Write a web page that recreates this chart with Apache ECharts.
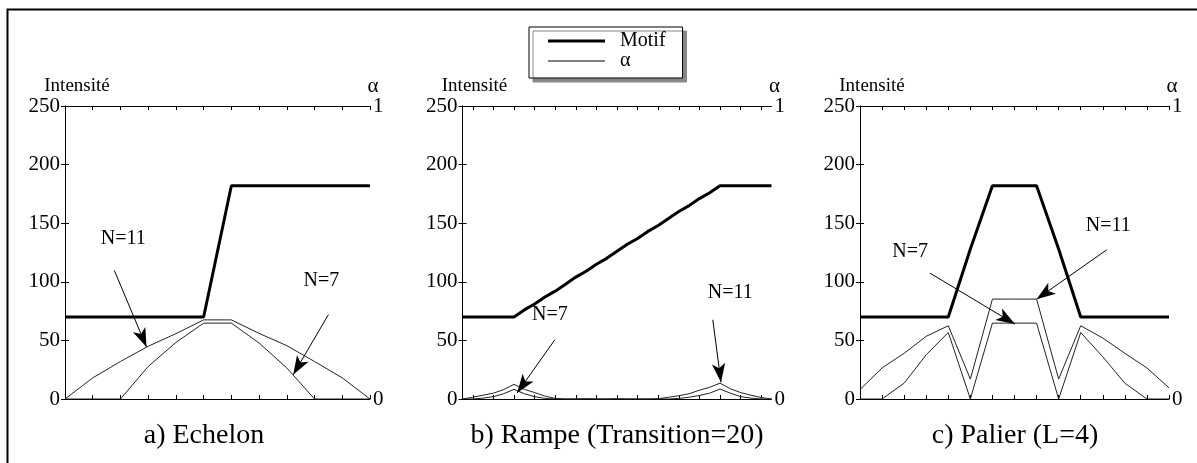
<!DOCTYPE html>
<html><head><meta charset="utf-8">
<script src="https://cdn.jsdelivr.net/npm/echarts@6/dist/echarts.min.js"></script>
<style>html,body{margin:0;padding:0;background:#fff}#c{width:1197px;height:463px}</style>
</head><body><div id="c"></div>
<script>
// ---- data ----
const xEchelon = [0,1,2,3,4,5,6,7,8,9,10,11];
const motifEchelon = [70,70,70,70,70,70,182,182,182,182,182,182];
const alpha11Echelon = [0,0.072,0.128,0.18,0.223,0.27,0.27,0.224,0.182,0.128,0.072,0];
const alpha7Echelon = [0,0,0,0.111,0.193,0.259,0.259,0.191,0.106,0,0,0];

const xRampe = [0,1,2,3,4,5,6,7,8,9,10,11,12,13,14,15,16,17,18,19,20,21,22,23,24,25,26,27,28,29,30];
const motifRampe = [70,70,70,70,70,70,76,81,87,92,98,104,109,115,120,126,132,137,143,148,154,160,165,171,176,182,182,182,182,182,182];
const alpha11Rampe = [0,0.006,0.013,0.02,0.032,0.05,0.033,0.022,0.01,0.002,0,0,0.001,0,0,0.001,0,0,0,0.001,0.006,0.011,0.018,0.03,0.04,0.054,0.035,0.022,0.013,0.005,0];
const alpha7Rampe = [0,0,0.003,0.008,0.018,0.033,0.018,0.008,0.002,0,0,0,0,0,0,0,0,0,0,0,0,0.002,0.006,0.012,0.02,0.034,0.02,0.008,0.003,0,0];

const xPalier = [0,1,2,3,4,5,6,7,8,9,10,11,12,13,14];
const motifPalier = [70,70,70,70,70,128,182,182,182,128,70,70,70,70,70];
const alpha11Palier = [0.032,0.106,0.156,0.214,0.25,0.068,0.341,0.341,0.341,0.068,0.25,0.208,0.156,0.106,0.038];
const alpha7Palier = [0,0,0.054,0.151,0.227,0,0.259,0.259,0.259,0,0.227,0.144,0.054,0,0];

const intensityTicks = [0,50,100,150,200,250];
const alphaTicks = [0,1];
const panelTitles = ['a) Echelon','b) Rampe (Transition=20)','c) Palier (L=4)'];
const legendNames = ['Motif','α'];
const rampeTickValues = [1,3,5,7,9,11,13,15,17,19,21,23,25,27,29];

// ---- build ----
const FONT = 'Liberation Serif';
const zip = (xs, ys) => xs.map((x,i)=>[x, ys[i]]);
const panels = [
  {x:xEchelon, m:motifEchelon, a11:alpha11Echelon, a7:alpha7Echelon, min:0, max:11, interval:1,
   grid:{left:65, top:106, width:305, height:293}, titleX:204,
   arrows:[[[1.78,109.7],[2.94,44.3]],[[9.5,72],[8.23,20.7]]],
   labels:[[2.1,136.6,'N=11'],[9.25,101,'N=7']]},
  {x:xRampe, m:motifRampe, a11:alpha11Rampe, a7:alpha7Rampe, min:0, max:30, interval:2, ticks:rampeTickValues,
   grid:{left:462.5, top:106, width:309, height:293}, titleX:617,
   arrows:[[[8.97,50.6],[5.3,5.1]],[[24.3,67.6],[25.1,14.2]]],
   labels:[[8.48,71.9,'N=7'],[26.0,90.3,'N=11']]},
  {x:xPalier, m:motifPalier, a11:alpha11Palier, a7:alpha7Palier, min:0, max:14, interval:1,
   grid:{left:860, top:106, width:309, height:293}, titleX:1015,
   arrows:[[[3.17,107.4],[7.02,63.9]],[[11.18,127.3],[8.0,85.2]]],
   labels:[[2.27,125.9,'N=7'],[11.25,147.7,'N=11']]}
];

const grid=[], xAxis=[], yAxis=[], series=[], graphic=[];
panels.forEach((p,i)=>{
  grid.push(Object.assign({containLabel:false}, p.grid));
  const tick = {show:true, inside:true, length:4, lineStyle:{color:'#000', width:1}};
  if (p.ticks) tick.customValues = p.ticks;
  ['bottom','top'].forEach(pos=>{
    xAxis.push({type:'value', gridIndex:i, position:pos, min:p.min, max:p.max, interval:p.interval,
      axisLine:{show:true, onZero:false, lineStyle:{color:'#000', width:1}},
      axisTick:tick, axisLabel:{show:false}, splitLine:{show:false}});
  });
  yAxis.push({type:'value', gridIndex:i, position:'left', min:0, max:250, interval:50,
    name:'Intensité', nameLocation:'end', nameGap:10,
    nameTextStyle:{fontFamily:FONT, fontSize:19, color:'#000', align:'center', padding:[0,0,0,24]},
    axisLine:{show:true, lineStyle:{color:'#000', width:1}},
    axisTick:{show:true, inside:true, length:4, lineStyle:{color:'#000'}},
    axisLabel:{fontFamily:FONT, fontSize:21, color:'#000', margin:5,
      formatter:v=> intensityTicks.includes(v)? String(v):''},
    splitLine:{show:false}});
  yAxis.push({type:'value', gridIndex:i, position:'right', min:0, max:1, interval:0.2,
    axisLine:{show:true, lineStyle:{color:'#000', width:1}},
    axisTick:{show:true, inside:true, length:4, lineStyle:{color:'#000'}},
    axisLabel:{fontFamily:FONT, fontSize:21, color:'#000', margin:3,
      formatter:v=> alphaTicks.includes(v)? String(v):''},
    splitLine:{show:false}});
  series.push({type:'line', name:'Motif', xAxisIndex:2*i, yAxisIndex:2*i, data:zip(p.x,p.m),
    symbol:'none', lineStyle:{color:'#000', width:3}, itemStyle:{color:'#000'}, z:5,
    markLine:{silent:true, symbol:['none','arrow'], symbolSize:[10,19], label:{show:false},
      itemStyle:{color:'#000'},
      lineStyle:{color:'#000', width:1, type:'solid'},
      data:p.arrows.map(a=>[{coord:a[0]},{coord:a[1]}])},
    markPoint:{silent:true, symbol:'circle', symbolSize:1, itemStyle:{color:'rgba(0,0,0,0)'},
      label:{show:true, position:'inside', color:'#000', fontFamily:FONT, fontSize:20},
      data:p.labels.map(l=>({coord:[l[0],l[1]], value:l[2], label:{formatter:l[2]}}))}
  });
  series.push({type:'line', name:'α', xAxisIndex:2*i, yAxisIndex:2*i+1, data:zip(p.x,p.a11),
    symbol:'none', lineStyle:{color:'#222', width:1}, itemStyle:{color:'#222'}, z:3});
  series.push({type:'line', name:'α', xAxisIndex:2*i, yAxisIndex:2*i+1, data:zip(p.x,p.a7),
    symbol:'none', lineStyle:{color:'#222', width:1}, itemStyle:{color:'#222'}, z:3});
  graphic.push({type:'text', x:p.titleX, y:436, silent:true,
    style:{text:panelTitles[i], fill:'#000', font:'28px "Liberation Serif"', fontSize:28, fontFamily:FONT,
      align:'center', verticalAlign:'middle', textAlign:'center', textVerticalAlign:'middle'}});
  graphic.push({type:'text', x:p.grid.left + p.grid.width + 3, y:86, silent:true,
    style:{text:'α', fill:'#000', font:'21px "Liberation Serif"', fontSize:21, fontFamily:FONT,
      align:'center', verticalAlign:'middle', textAlign:'center', textVerticalAlign:'middle'}});
});
graphic.push({type:'rect', silent:true, z:-10, shape:{x:7.5, y:9.5, width:1300, height:600},
  style:{fill:'none', stroke:'#000', lineWidth:2}});

const chart = echarts.init(document.getElementById('c'), null, {renderer:'canvas'});
chart.setOption({
  animation:false,
  backgroundColor:'#fff',
  grid, xAxis, yAxis, series, graphic,
  legend:{show:true, orient:'vertical', left:529, top:27, selectedMode:false,
    data:[{name:legendNames[0], icon:'path://M0,0H57V3H0Z'}, {name:legendNames[1], icon:'path://M0,0H57V1H0Z'}],
    itemWidth:57, itemHeight:12, itemGap:0, padding:[4,17,7,19], symbolKeepAspect:true,
    itemStyle:{color:'#000', borderWidth:0},
    backgroundColor:'#fff', borderColor:'#000', borderWidth:1, borderRadius:0,
    shadowColor:'#888', shadowOffsetX:4, shadowOffsetY:4, shadowBlur:0,
    textStyle:{fontFamily:FONT, fontSize:20, color:'#000', padding:[0,0,0,10]}}
});
</script></body></html>
